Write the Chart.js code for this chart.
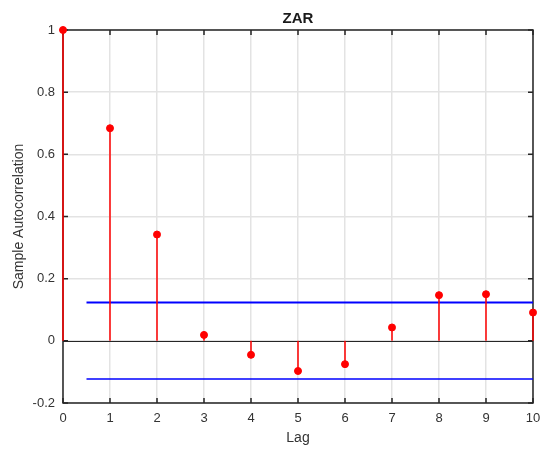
<!DOCTYPE html>
<html>
<head>
<meta charset="utf-8">
<script src="https://cdn.jsdelivr.net/npm/chart.js@4/dist/chart.umd.min.js"></script>
<style>
  html, body { margin: 0; padding: 0; background: #fff; }
  #wrap { width: 543px; height: 452px; }
</style>
</head>
<body>
<div id="wrap"><canvas id="acf" width="543" height="452"></canvas></div>
<script>
const title = 'ZAR';
const lags = [0, 1, 2, 3, 4, 5, 6, 7, 8, 9, 10];
const acf = [1, 0.684, 0.342, 0.019, -0.045, -0.097, -0.075, 0.043, 0.147, 0.150, 0.091];
const boundX = [0.5, 10];
const bound = 0.123;
const yTicks = [-0.2, 0, 0.2, 0.4, 0.6, 0.8, 1];

const RED = '#ff0000';
const BLUE = '#0000ff';
const FONT = '"Liberation Sans", Arial, sans-serif';

// one tiny dataset per stem, from 0 up (or down) to the value
const stems = lags.map((k, i) => ({
    type: 'line',
    data: [{x: k, y: 0}, {x: k, y: acf[i]}],
    borderColor: RED,
    borderWidth: 1.5,
    pointRadius: 0,
    clip: false,
    order: 2
}));

const boundSets = [bound, -bound].map((b, i) => ({
    type: 'line',
    data: boundX.map(x => ({x: x, y: b})),
    borderColor: BLUE,
    borderWidth: i === 0 ? 2 : 1.5,
    pointRadius: 0,
    order: 3
}));

const points = {
    type: 'scatter',
    data: lags.map((k, i) => ({x: k, y: acf[i]})),
    backgroundColor: RED,
    borderColor: RED,
    pointRadius: 3.5,
    clip: false,
    order: 1
};

// box, zero line and inward ticks, MATLAB style
const boxTicks = {
    id: 'boxTicks',
    beforeDatasetsDraw(chart) {
        const {ctx, chartArea: a, scales: {x, y}} = chart;
        ctx.save();
        ctx.strokeStyle = '#262626';
        ctx.lineWidth = 1;
        const y0 = Math.round(y.getPixelForValue(0)) + 0.5;
        ctx.beginPath();
        ctx.moveTo(a.left, y0);
        ctx.lineTo(a.right, y0);
        ctx.stroke();
        ctx.lineWidth = 1.5;
        ctx.strokeRect(a.left, a.top, a.right - a.left, a.bottom - a.top);
        ctx.beginPath();
        lags.forEach(k => {
            const px = x.getPixelForValue(k);
            ctx.moveTo(px, a.top); ctx.lineTo(px, a.top + 5);
            ctx.moveTo(px, a.bottom); ctx.lineTo(px, a.bottom - 5);
        });
        yTicks.forEach(v => {
            const py = y.getPixelForValue(v);
            ctx.moveTo(a.left, py); ctx.lineTo(a.left + 5, py);
            ctx.moveTo(a.right, py); ctx.lineTo(a.right - 5, py);
        });
        ctx.stroke();
        ctx.restore();
    },
    afterDraw(chart) {
        const {ctx, chartArea: a} = chart;
        ctx.save();
        ctx.fillStyle = '#1a1a1a';
        ctx.font = 'bold 15px ' + FONT;
        ctx.textAlign = 'center';
        ctx.textBaseline = 'middle';
        ctx.fillText(title, (a.left + a.right) / 2, 19);
        ctx.restore();
    }
};

new Chart(document.getElementById('acf'), {
    data: {datasets: [...stems, ...boundSets, points]},
    options: {
        responsive: false,
        animation: false,
        layout: {padding: {top: 30, right: 10, left: 0, bottom: 0}},
        plugins: {legend: {display: false}, tooltip: {enabled: false}, title: {display: false}},
        scales: {
            x: {
                type: 'linear',
                min: 0, max: 10,
                afterFit: s => { s.height = 49; s.paddingRight = 0; s.paddingLeft = 0; },
                afterBuildTicks: s => { s.ticks = lags.map(v => ({value: v})); },
                grid: {color: '#e3e3e3', lineWidth: 1.5, drawTicks: false},
                border: {display: false},
                ticks: {padding: 8, color: '#333', font: {family: FONT, size: 13}, maxRotation: 0},
                title: {display: true, text: 'Lag', color: '#333', padding: {top: 0, bottom: 5},
                        font: {family: FONT, size: 14}}
            },
            y: {
                type: 'linear',
                min: -0.2, max: 1,
                afterFit: s => { s.width = 63; s.paddingTop = 0; s.paddingBottom = 0; },
                afterBuildTicks: s => { s.ticks = yTicks.map(v => ({value: v})); },
                grid: {color: '#e3e3e3', lineWidth: 1.5, drawTicks: false},
                border: {display: false},
                ticks: {padding: 8, color: '#333', font: {family: FONT, size: 13},
                        callback: v => String(Math.round(v * 10) / 10)},
                title: {display: true, text: 'Sample Autocorrelation', color: '#333', padding: {top: 11, bottom: 0},
                        font: {family: FONT, size: 14}}
            }
        }
    },
    plugins: [boxTicks]
});
</script>
</body>
</html>
